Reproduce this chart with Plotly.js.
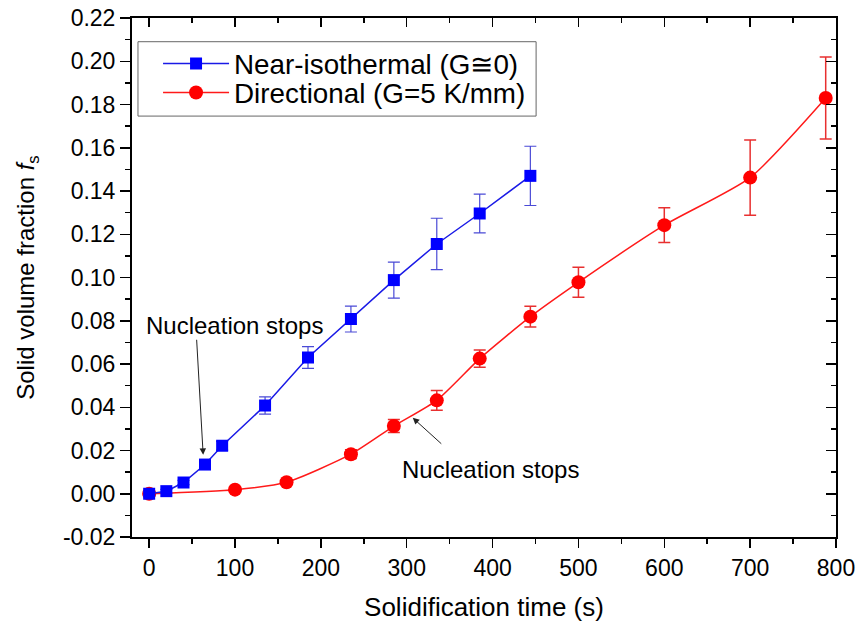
<!DOCTYPE html>
<html>
<head>
<meta charset="utf-8">
<script src="https://cdn.plot.ly/plotly-3.0.1.min.js"></script>
<style>html,body{margin:0;padding:0;background:#fff;}#chart{width:863px;height:632px;}</style>
</head>
<body>
<div id="chart"></div>
<script>
// Near-isothermal (G≅0)
var isoTime = [0, 20, 40, 65, 85, 135, 185, 235, 285, 335, 385, 444];
var isoFs   = [0.0000, 0.0012, 0.0052, 0.0135, 0.0222, 0.0408, 0.0630, 0.0808, 0.0988, 0.1155, 0.1296, 0.1470];
var isoErr  = [0.0010, 0.0008, 0.0010, 0.0012, 0.0020, 0.0040, 0.0050, 0.0060, 0.0083, 0.0119, 0.0090, 0.0137];
// Directional (G=5 K/mm)
var dirTime = [0, 100, 160, 235, 285, 335, 385, 444, 500, 600, 700, 788];
var dirFs   = [0.0000, 0.0019, 0.0053, 0.0183, 0.0313, 0.0432, 0.0625, 0.0819, 0.0978, 0.1242, 0.1462, 0.1830];
var dirErr  = [0.0010, 0.0008, 0.0008, 0.0020, 0.0030, 0.0046, 0.0040, 0.0048, 0.0069, 0.0080, 0.0174, 0.0190];

var xTicks = [0, 100, 200, 300, 400, 500, 600, 700, 800];
var yTicks = [-0.02, 0.00, 0.02, 0.04, 0.06, 0.08, 0.10, 0.12, 0.14, 0.16, 0.18, 0.20, 0.22];

var traces = [
  {
    x: dirTime, y: dirFs, name: 'Directional (G=5 K/mm)', type: 'scatter', mode: 'lines+markers',
    line: {color: '#ff1a1a', width: 1.5, shape: 'spline', smoothing: 0.6},
    marker: {color: '#ff0000', symbol: 'circle', size: 14},
    error_y: {type: 'data', array: dirErr, visible: true, color: '#e83030', thickness: 1.5, width: 6},
    legend: 'legend2'
  },
  {
    x: isoTime, y: isoFs, name: 'Near-isothermal (G≅0)', type: 'scatter', mode: 'lines+markers',
    line: {color: '#1a1ae6', width: 1.5},
    marker: {color: '#0000ff', symbol: 'square', size: 12},
    error_y: {type: 'data', array: isoErr, visible: true, color: '#4a4ad6', thickness: 1.2, width: 6},
    legend: 'legend'
  },
  {x: [0], y: [0], xaxis: 'x2', yaxis: 'y2', showlegend: false, hoverinfo: 'skip', mode: 'markers', marker: {opacity: 0}}
];

var fontFam = 'Liberation Sans, Arial, sans-serif';
var legendBase = {
  xanchor: 'left', yanchor: 'middle', borderwidth: 0, bgcolor: 'rgba(0,0,0,0)',
  font: {family: fontFam, size: 27.8, color: '#000'}, itemwidth: 66
};
var layout = {
  width: 863, height: 632,
  margin: {l: 132, r: 27, t: 18, b: 95},
  paper_bgcolor: '#fff', plot_bgcolor: '#fff',
  font: {family: fontFam, color: '#000', size: 18},
  showlegend: true,
  legend: Object.assign({}, legendBase, {x: 0.037, y: 0.9115}),
  legend2: Object.assign({}, legendBase, {x: 0.037, y: 0.8556}),
  shapes: [
    {type: 'rect', xref: 'paper', yref: 'paper', x0: 0.0085, x1: 0.574, y0: 0.811, y1: 0.9543,
     line: {color: '#666', width: 1}, fillcolor: '#fff', layer: 'below'}
  ],
  xaxis: {
    range: [-20, 800], tickvals: xTicks, ticktext: xTicks.map(String),
    ticks: 'outside', ticklen: 9, tickwidth: 1.5, tickcolor: '#000',
    minor: {dtick: 50, tick0: 0, ticks: 'outside', ticklen: 5, tickwidth: 1.5, tickcolor: '#000'},
    showline: true, linecolor: '#000', linewidth: 2, showgrid: false, zeroline: false,
    tickfont: {size: 23, family: fontFam},
    title: {text: 'Solidification time (s)', font: {size: 26, family: fontFam}, standoff: 18}
  },
  yaxis: {
    range: [-0.02, 0.22], tickvals: yTicks, ticktext: yTicks.map(function(v){return v.toFixed(2);}),
    ticks: 'outside', ticklen: 10, tickwidth: 1.5, tickcolor: '#000', ticklabelstandoff: 0,
    minor: {dtick: 0.01, tick0: 0, ticks: 'outside', ticklen: 5, tickwidth: 1.5, tickcolor: '#000'},
    showline: true, linecolor: '#000', linewidth: 2, showgrid: false, zeroline: false,
    tickfont: {size: 23, family: fontFam},
    title: {text: 'Solid volume fraction <i>f</i><sub>s</sub>', font: {size: 24, family: fontFam}, standoff: 22}
  },
  xaxis2: {
    overlaying: 'x', side: 'top', range: [-20, 800], tickvals: xTicks, showticklabels: false,
    ticks: 'inside', ticklen: 9, tickwidth: 1.5, tickcolor: '#000',
    minor: {dtick: 50, tick0: 0, ticks: 'inside', ticklen: 5, tickwidth: 1.5, tickcolor: '#000'},
    showline: true, linecolor: '#000', linewidth: 2, showgrid: false, zeroline: false
  },
  yaxis2: {
    overlaying: 'y', side: 'right', range: [-0.02, 0.22], tickvals: yTicks, showticklabels: false,
    ticks: 'inside', ticklen: 10, tickwidth: 1.5, tickcolor: '#000',
    minor: {dtick: 0.01, tick0: 0, ticks: 'inside', ticklen: 5, tickwidth: 1.5, tickcolor: '#000'},
    showline: true, linecolor: '#000', linewidth: 2, showgrid: false, zeroline: false
  },
  annotations: [
    {xref: 'x', yref: 'y', x: 99, y: 0.078, text: 'Nucleation stops', showarrow: false,
     font: {size: 24, family: fontFam, color: '#000'}},
    {xref: 'x', yref: 'y', x: 397, y: 0.0113, text: 'Nucleation stops', showarrow: false,
     font: {size: 24, family: fontFam, color: '#000'}},
    {xref: 'x', yref: 'y', axref: 'x', ayref: 'y', x: 62.9, y: 0.0180, ax: 55.2, ay: 0.0719,
     text: '', showarrow: true, arrowhead: 2, arrowsize: 1.3, arrowwidth: 1, arrowcolor: '#222', standoff: 0},
    {xref: 'x', yref: 'y', axref: 'x', ayref: 'y', x: 307, y: 0.0351, ax: 342, ay: 0.0225,
     text: '', showarrow: true, arrowhead: 2, arrowsize: 1.3, arrowwidth: 1, arrowcolor: '#222', standoff: 0}
  ]
};

Plotly.newPlot('chart', traces, layout, {displayModeBar: false, staticPlot: true});
</script>
</body>
</html>
